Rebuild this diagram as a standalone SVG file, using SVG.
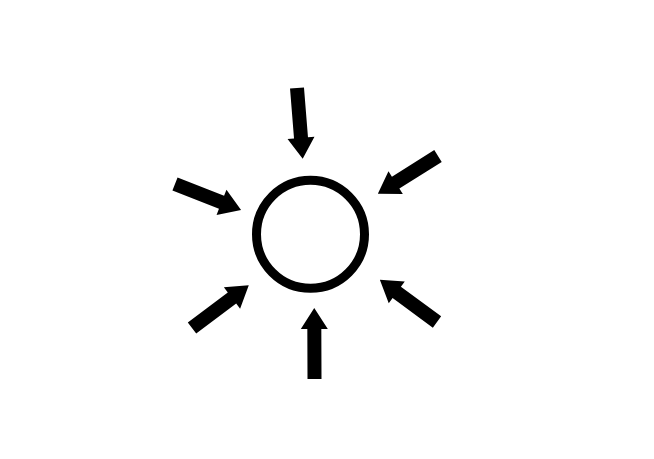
<svg xmlns="http://www.w3.org/2000/svg" xmlns:xlink="http://www.w3.org/1999/xlink" width="654" height="459" viewBox="0 0 654 459">
<defs>
<style>
.arrow{fill:#000;stroke:none}
.ring{fill:none;stroke:#000;stroke-width:9}
</style>
<path id="arr" d="M0,-7 H50 V-13.5 L71,0 L50,13.5 V7 H0 Z"/>
</defs>
<rect width="654" height="459" fill="#fff"/>
<g id="circle">
<circle class="ring" cx="310.5" cy="234.3" r="54"/>
</g>
<g id="connectors">
<use class="arrow" xlink:href="#arr" href="#arr" transform="translate(297,88) rotate(85.4)"/>
<use class="arrow" xlink:href="#arr" href="#arr" transform="translate(175,184) rotate(21.5)"/>
<use class="arrow" xlink:href="#arr" href="#arr" transform="translate(438,156) rotate(147.9)"/>
<use class="arrow" xlink:href="#arr" href="#arr" transform="translate(192,328) rotate(-36.9)"/>
<use class="arrow" xlink:href="#arr" href="#arr" transform="translate(314.5,379) rotate(-90.2)"/>
<use class="arrow" xlink:href="#arr" href="#arr" transform="translate(437,322) rotate(216.4)"/>
</g>
</svg>
